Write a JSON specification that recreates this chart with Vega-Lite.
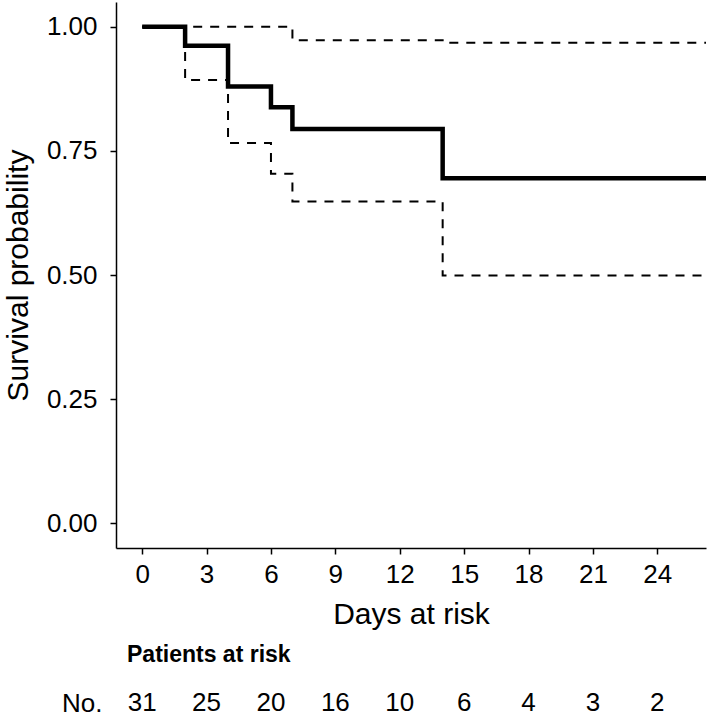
{
  "$schema": "https://vega.github.io/schema/vega-lite/v6.json",
  "background": "white",
  "padding": {"left": 3, "top": 2, "right": 3, "bottom": 0},
  "spacing": 15,
  "config": {
    "view": {"stroke": null},
    "font": "Liberation Sans",
    "axis": {
      "domainColor": "black",
      "domainWidth": 1.5,
      "tickColor": "black",
      "tickWidth": 1.5,
      "tickSize": 6,
      "labelColor": "black",
      "labelFontSize": 26,
      "labelPadding": 7,
      "titleFontSize": 30,
      "titleFontWeight": "normal",
      "titleColor": "black",
      "grid": false
    }
  },
  "datasets": {
    "km": [
      {"series": "estimate", "time": 0, "surv": 1.0},
      {"series": "estimate", "time": 2, "surv": 0.962},
      {"series": "estimate", "time": 4, "surv": 0.88},
      {"series": "estimate", "time": 6, "surv": 0.838},
      {"series": "estimate", "time": 7, "surv": 0.794},
      {"series": "estimate", "time": 14, "surv": 0.695},
      {"series": "estimate", "time": 26.27, "surv": 0.695},
      {"series": "upper", "time": 0, "surv": 1.0},
      {"series": "upper", "time": 7, "surv": 0.973},
      {"series": "upper", "time": 14, "surv": 0.968},
      {"series": "upper", "time": 26.27, "surv": 0.968},
      {"series": "lower", "time": 0, "surv": 1.0},
      {"series": "lower", "time": 2, "surv": 0.893},
      {"series": "lower", "time": 4, "surv": 0.766},
      {"series": "lower", "time": 6, "surv": 0.704},
      {"series": "lower", "time": 7, "surv": 0.648},
      {"series": "lower", "time": 14, "surv": 0.499},
      {"series": "lower", "time": 26.27, "surv": 0.499}
    ],
    "risk": [
      {"time": 0, "n": 31, "row": "No."},
      {"time": 3, "n": 25, "row": "No."},
      {"time": 6, "n": 20, "row": "No."},
      {"time": 9, "n": 16, "row": "No."},
      {"time": 12, "n": 10, "row": "No."},
      {"time": 15, "n": 6, "row": "No."},
      {"time": 18, "n": 4, "row": "No."},
      {"time": 21, "n": 3, "row": "No."},
      {"time": 24, "n": 2, "row": "No."}
    ]
  },
  "vconcat": [
    {
      "width": 590,
      "height": 546,
      "data": {"name": "km"},
      "encoding": {
        "x": {
          "field": "time",
          "type": "quantitative",
          "scale": {"domain": [-1.22, 26.27], "nice": false, "zero": false},
          "axis": {"values": [0, 3, 6, 9, 12, 15, 18, 21, 24], "title": "Days at risk", "titlePadding": 12}
        },
        "y": {
          "field": "surv",
          "type": "quantitative",
          "scale": {"domain": [-0.05, 1.05], "nice": false, "zero": false},
          "axis": {"values": [0, 0.25, 0.5, 0.75, 1], "format": ".2f", "title": "Survival probability", "labelPadding": 13, "titlePadding": 13}
        }
      },
      "layer": [
        {
          "transform": [{"filter": "datum.series != 'estimate'"}],
          "mark": {"type": "line", "interpolate": "step-after", "strokeDash": [9, 8], "strokeWidth": 2, "color": "black"},
          "encoding": {"detail": {"field": "series", "type": "nominal"}}
        },
        {
          "transform": [{"filter": "datum.series == 'estimate'"}],
          "mark": {"type": "line", "interpolate": "step-after", "strokeWidth": 4.5, "color": "black"},
          "encoding": {}
        }
      ]
    },
    {
      "width": 590,
      "height": 30,
      "data": {"name": "risk"},
      "title": {"text": "Patients at risk", "anchor": "start", "frame": "group", "fontWeight": "bold", "fontSize": 23, "dx": 11, "color": "black", "offset": 21},
      "mark": {"type": "text", "fontSize": 26, "color": "black"},
      "encoding": {
        "x": {
          "field": "time",
          "type": "quantitative",
          "scale": {"domain": [-1.22, 26.27], "nice": false, "zero": false},
          "axis": null
        },
        "y": {
          "field": "row",
          "type": "nominal",
          "axis": {"title": null, "domain": false, "ticks": false, "labelFontSize": 26, "labelPadding": 14}
        },
        "text": {"field": "n", "type": "quantitative"}
      }
    }
  ]
}
